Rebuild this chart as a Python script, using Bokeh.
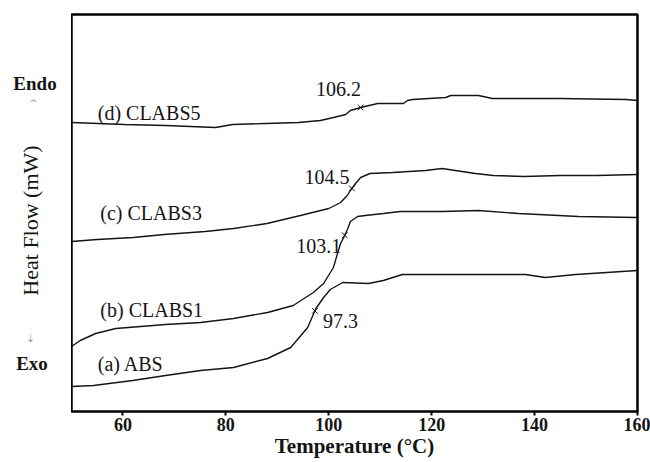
import numpy as np
from bokeh.plotting import figure
from bokeh.layouts import row
from bokeh.models import Label, FixedTicker
from bokeh.embed import file_html
from bokeh.resources import INLINE

# ---- data (temperature in °C, heat flow in arbitrary offset units) ----
abs_T = [50, 54.3, 61.9, 68.3, 75.1, 81.5, 88.1, 92.6, 95.9, 97.5, 99.0, 100.3, 102.7,
         107.7, 110.6, 114.3, 125.2, 138.2, 142.1, 148.0, 160]
abs_H = [25, 26, 31, 36, 41, 44, 53, 64, 84, 103, 114, 122, 129,
         128, 131, 137, 137, 137, 134, 137, 141]

clabs1_T = [50, 51.7, 54.7, 58.6, 68.3, 75.1, 81.5, 88.1, 93.1, 97.0, 99.0, 100.9, 101.7,
            102.3, 102.9, 103.7, 104.2, 105.6, 107.1, 110.6, 113.9, 122.1, 129.1, 136.9, 148.5, 160]
clabs1_H = [65, 71, 78, 83, 87, 89, 93, 99, 106, 119, 128, 144, 158,
            168, 174, 183, 190, 195, 196, 198, 200, 200, 201, 198, 195, 194]

clabs3_T = [50, 55, 62, 68, 76, 81.5, 88, 94.5, 100, 102.3, 103.6, 104.2, 105.2, 106.2,
            108, 112.4, 118.8, 122, 128.5, 132, 138, 145, 152, 160]
clabs3_H = [170, 172, 174, 177, 180, 183, 188, 196, 203, 209, 216, 221, 228, 234,
            238, 239, 241, 243, 238, 236, 235, 236, 236, 237]

clabs5_T = [50, 55.2, 60.3, 68.3, 78.0, 81.3, 87.7, 94.1, 98.4, 100.9, 103.3, 104.2, 106.2,
            109.5, 114.5, 115.3, 116.3, 122.7, 123.7, 129.1, 131.8, 144.7, 157.7, 160]
clabs5_H = [289, 288, 287, 286, 284, 287, 288, 289, 291, 294, 297, 301, 304,
            308, 308, 311, 312, 314, 316, 316, 313, 313, 312, 311]

curve_names = ["(a) ABS", "(b) CLABS1", "(c) CLABS3", "(d) CLABS5"]
tg_values = [97.3, 103.1, 104.5, 106.2]
tg_labels = ["97.3", "103.1", "104.5", "106.2"]
x_ticks = [60, 80, 100, 120, 140, 160]

curves = [(abs_T, abs_H), (clabs1_T, clabs1_H), (clabs3_T, clabs3_H), (clabs5_T, clabs5_H)]

FONT = "Liberation Serif"
INK = "#141414"

# ---- main plot ----
p = figure(width=579, height=462, x_range=(50, 160), y_range=(0, 397),
           output_backend="svg", toolbar_location=None,
           min_border_left=0, min_border_right=13, min_border_top=14, min_border_bottom=51)
p.background_fill_color = "white"
p.border_fill_color = "white"
p.grid.visible = False
p.outline_line_color = "black"
p.outline_line_width = 2.5
p.yaxis.visible = False

ax = p.xaxis[0]
ax.ticker = FixedTicker(ticks=x_ticks)
ax.axis_line_color = None
ax.major_tick_line_color = "black"
ax.major_tick_line_width = 2
ax.major_tick_out = 4
ax.major_tick_in = 0
ax.minor_tick_line_color = None
ax.major_label_standoff = 2
ax.major_label_text_font = FONT
ax.major_label_text_font_style = "bold"
ax.major_label_text_font_size = "18px"
ax.major_label_text_color = INK
ax.axis_label = "Temperature (°C)"
ax.axis_label_standoff = 0
ax.axis_label_text_font = FONT
ax.axis_label_text_font_style = "bold"
ax.axis_label_text_font_size = "21px"
ax.axis_label_text_color = INK

for T, H in curves:
    p.line(T, H, line_color=INK, line_width=1.4)

# Tg markers on each curve
tg_y = [float(np.interp(tg, T, H)) for tg, (T, H) in zip(tg_values, curves)]
p.scatter(tg_values, tg_y, marker="x", size=8, line_color=INK, line_width=1)

# curve name labels
name_pos = [(55.1, 48), (55.6, 102), (55.6, 199), (55.1, 299)]
for name, (x, y) in zip(curve_names, name_pos):
    p.add_layout(Label(x=x, y=y, text=name, text_font=FONT, text_font_size="20px",
                       text_color=INK, text_baseline="middle", text_align="left"))

# Tg value labels
tg_pos = [(98.9, 91), (93.7, 166), (95.3, 235), (97.5, 323)]
for txt, (x, y) in zip(tg_labels, tg_pos):
    p.add_layout(Label(x=x, y=y, text=txt, text_font=FONT, text_font_size="20px",
                       text_color=INK, text_baseline="middle", text_align="left"))

# ---- left strip with the y title and Endo / Exo (frame aligned with main frame) ----
s = figure(width=71, height=462, x_range=(0, 71), y_range=(0, 397),
           output_backend="svg", toolbar_location=None,
           min_border_left=0, min_border_right=0, min_border_top=14, min_border_bottom=51)
s.axis.visible = False
s.grid.visible = False
s.outline_line_color = None
s.background_fill_color = "white"
s.border_fill_color = "white"

s.add_layout(Label(x=30, y=191, text="Heat Flow (mW)", text_font=FONT,
                   text_font_size="22px", text_color=INK, angle=np.pi / 2,
                   text_align="center", text_baseline="middle"))
s.add_layout(Label(x=34.5, y=328, text="Endo", text_font=FONT, text_font_size="19px",
                   text_font_style="bold", text_color=INK,
                   text_align="center", text_baseline="middle"))
s.add_layout(Label(x=31.5, y=48, text="Exo", text_font=FONT, text_font_size="19px",
                   text_font_style="bold", text_color=INK,
                   text_align="center", text_baseline="middle"))
s.add_layout(Label(x=33, y=309, text="^", text_font="DejaVu Sans", text_font_size="9px",
                   text_color="#888888", text_align="center", text_baseline="middle"))
s.add_layout(Label(x=30, y=73, text="⇣", text_font="DejaVu Sans", text_font_size="11px",
                   text_color="#999999", text_align="center", text_baseline="middle"))

layout = row(s, p, spacing=0)
open("out.html", "w").write(file_html(layout, INLINE))
